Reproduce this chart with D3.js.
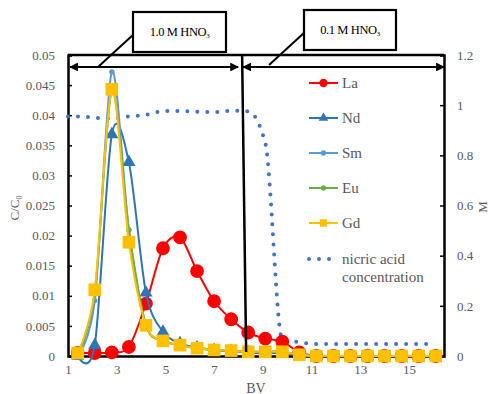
<!DOCTYPE html>
<html>
<head>
<meta charset="utf-8">
<script src="https://cdn.jsdelivr.net/npm/d3@7/dist/d3.min.js"></script>
<style>
  body { margin: 0; background: #fff; }
  text { font-family: "Liberation Serif", "Times New Roman", serif; }
</style>
</head>
<body>
<svg width="494" height="394"></svg>
<script>
// bed volumes where samples were taken
var bv = [1.4, 2.1, 2.8, 3.5, 4.2, 4.9, 5.6, 6.3, 7.0, 7.7, 8.4, 9.1, 9.8, 10.5, 11.2, 11.9, 12.6, 13.3, 14.0, 14.7, 15.4, 16.1];

// C/C0 for each element
var la = [0.0005, 0.0005, 0.0006, 0.0015, 0.0087, 0.0179, 0.0197, 0.0141, 0.0091, 0.0061, 0.0039, 0.0029, 0.0024, 0.0006, 0, 0, 0, 0, 0, 0, 0, 0];
var nd = [0, 0.0018, 0.0368, 0.0322, 0.0105, 0.0040, 0.0021, 0.0014, 0.0010, 0.0008, 0.0006, 0.0005, 0.0005, 0.0002, 0, 0, 0, 0, 0, 0, 0, 0];
var sm = [0, 0.0092, 0.0472, 0.0209, 0.0052, 0.0026, 0.0018, 0.0013, 0.0010, 0.0009, 0.0007, 0.0007, 0.0007, 0.0002, 0, 0, 0, 0, 0, 0, 0, 0];
var eu = [0, 0.0105, 0.0440, 0.0210, 0.0051, 0.0025, 0.0018, 0.0013, 0.0010, 0.0009, 0.0007, 0.0007, 0.0007, 0.0002, 0, 0, 0, 0, 0, 0, 0, 0];
var gd = [0.0005, 0.0110, 0.0443, 0.0189, 0.0051, 0.0025, 0.0018, 0.0013, 0.0010, 0.0009, 0.0007, 0.0007, 0.0007, 0.0002, 0, 0, 0, 0, 0, 0, 0, 0];

// nitric acid concentration (M), right axis
var acidBv = [1.0, 1.4, 2.1, 2.8, 3.5, 4.2, 4.9, 5.6, 6.3, 7.0, 7.7, 8.4, 9.1, 9.8, 10.5, 11.2, 11.9, 12.6, 13.3, 14.0, 14.7, 15.4, 16.1];
var acid = [0.955, 0.955, 0.950, 0.947, 0.955, 0.962, 0.976, 0.977, 0.974, 0.972, 0.978, 0.975, 0.850, 0.065, 0.055, 0.048, 0.048, 0.048, 0.048, 0.048, 0.048, 0.048, 0.048];

var xTicks = [1, 3, 5, 7, 9, 11, 13, 15];
var yTicks = [0, 0.005, 0.01, 0.015, 0.02, 0.025, 0.03, 0.035, 0.04, 0.045, 0.05];
var y2Ticks = [0, 0.2, 0.4, 0.6, 0.8, 1, 1.2];

// annotation: eluent change and the two label boxes
var eluents = ["1.0 M HNO", "0.1 M HNO"];
var changeBv = 8.15;

var svg = d3.select("svg"),
    pl = 68, pr = 444, pt = 55, pb = 356;

var x = d3.scaleLinear().domain([1, 16.44]).range([pl, pr]);
var y = d3.scaleLinear().domain([0, 0.05]).range([pb, pt]);
var y2 = d3.scaleLinear().domain([0, 1.2]).range([pb, pt]);

var grey = "#595959";

// axes
var gx = svg.append("g").attr("transform", "translate(0," + pb + ")")
    .call(d3.axisBottom(x).tickValues(xTicks).tickSize(0).tickPadding(9).tickFormat(d3.format("d")));
var gy = svg.append("g").attr("transform", "translate(" + pl + ",0)")
    .call(d3.axisLeft(y).tickValues(yTicks).tickSize(-4).tickPadding(13)
      .tickFormat(function(d) { return d === 0 ? "0" : String(+d.toFixed(3)); }));
var gy2 = svg.append("g").attr("transform", "translate(" + pr + ",0)")
    .call(d3.axisRight(y2).tickValues(y2Ticks).tickSize(-4).tickPadding(13)
      .tickFormat(function(d) { return String(+d.toFixed(1)); }));

[gx, gy, gy2].forEach(function(g) {
    g.select(".domain").attr("stroke", "#000").attr("stroke-width", 2.5);
    g.selectAll(".tick line").attr("stroke", "#000").attr("stroke-width", 1.5);
    g.selectAll(".tick text").attr("fill", grey).attr("font-size", 13)
      .style("font-family", "Liberation Serif");
});

// top border of plot
svg.append("line").attr("x1", pl).attr("x2", pr).attr("y1", pt).attr("y2", pt)
    .attr("stroke", "#000").attr("stroke-width", 2.5);

// axis titles
svg.append("text").attr("transform", "translate(19,208) rotate(-90)")
    .attr("text-anchor", "middle").attr("fill", grey).attr("font-size", 13)
    .text("C/C").append("tspan").attr("font-size", 8).attr("dy", 3).text("0");
svg.append("text").attr("transform", "translate(487,207) rotate(-90)")
    .attr("text-anchor", "middle").attr("fill", grey).attr("font-size", 13).text("M");
svg.append("text").attr("x", 256).attr("y", 393)
    .attr("text-anchor", "middle").attr("fill", grey).attr("font-size", 14).text("BV");

// nitric acid, dotted
var acidLine = d3.line()
    .x(function(d, i) { return x(acidBv[i]); })
    .y(function(d) { return y2(d); })
    .curve(d3.curveMonotoneX);
svg.append("path").datum(acid)
    .attr("d", acidLine)
    .attr("fill", "none").attr("stroke", "#4472C4").attr("stroke-width", 4)
    .attr("stroke-linecap", "round").attr("stroke-dasharray", "0 10");

var series = [
    { name: "La", values: la, color: "#FF0000", shape: d3.symbolCircle, size: 150, legSize: 55 },
    { name: "Nd", values: nd, color: "#2E75B6", shape: d3.symbolTriangle, size: 75, legSize: 40 },
    { name: "Sm", values: sm, color: "#5B9BD5", shape: d3.symbolCircle, size: 22, legSize: 22 },
    { name: "Eu", values: eu, color: "#70AD47", shape: d3.symbolCircle, size: 22, legSize: 22 },
    { name: "Gd", values: gd, color: "#FFC000", shape: d3.symbolSquare, size: 160, legSize: 55 }
];

var line = d3.line()
    .x(function(d, i) { return x(bv[i]); })
    .y(function(d) { return y(d); })
    .curve(d3.curveCardinal.tension(0.1));

series.forEach(function(s) {
    var g = svg.append("g");
    g.append("path").datum(s.values)
        .attr("d", line)
        .attr("fill", "none").attr("stroke", s.color).attr("stroke-width", 2);
    g.selectAll("path.pt").data(s.values).enter().append("path")
        .attr("class", "pt")
        .attr("transform", function(d, i) { return "translate(" + x(bv[i]) + "," + y(d) + ")"; })
        .attr("d", d3.symbol().type(s.shape).size(s.size))
        .attr("fill", s.color);
});

// legend
var legend = svg.append("g").attr("transform", "translate(309,83)");
series.forEach(function(s, i) {
    var row = legend.append("g").attr("transform", "translate(0," + (i * 35) + ")");
    row.append("line").attr("x1", 0).attr("x2", 29).attr("stroke", s.color).attr("stroke-width", 2);
    row.append("path").attr("transform", "translate(14.5,0)")
        .attr("d", d3.symbol().type(s.shape).size(s.legSize)).attr("fill", s.color);
    row.append("text").attr("x", 33).attr("y", 5).attr("fill", grey).attr("font-size", 15).text(s.name);
});
var accRow = legend.append("g").attr("transform", "translate(0,176)");
accRow.append("line").attr("x1", 0).attr("x2", 22).attr("stroke", "#4472C4").attr("stroke-width", 4)
    .attr("stroke-linecap", "round").attr("stroke-dasharray", "0 10");
accRow.append("text").attr("x", 33).attr("y", 5).attr("fill", grey).attr("font-size", 15).text("nicric acid");
accRow.append("text").attr("x", 33).attr("y", 23).attr("fill", grey).attr("font-size", 15).text("concentration");

// eluent annotation
var ann = svg.append("g");
var defs = svg.append("defs");
defs.append("marker").attr("id", "ah").attr("viewBox", "0 0 10 10")
    .attr("refX", 9).attr("refY", 5).attr("markerWidth", 4).attr("markerHeight", 4)
    .attr("orient", "auto-start-reverse").attr("markerUnits", "strokeWidth")
    .append("path").attr("d", "M0,0L10,5L0,10z").attr("fill", "#000");

var arrowY = 67;
ann.append("line").attr("x1", x(1) + 2).attr("x2", x(changeBv) - 4)
    .attr("y1", arrowY).attr("y2", arrowY)
    .attr("stroke", "#000").attr("stroke-width", 2.2)
    .attr("marker-start", "url(#ah)").attr("marker-end", "url(#ah)");
ann.append("line").attr("x1", x(changeBv) + 1).attr("x2", pr)
    .attr("y1", arrowY).attr("y2", arrowY)
    .attr("stroke", "#000").attr("stroke-width", 2.2)
    .attr("marker-start", "url(#ah)").attr("marker-end", "url(#ah)");

// divider between eluents
ann.append("line").attr("x1", x(changeBv)).attr("x2", x(changeBv) + 4)
    .attr("y1", pt).attr("y2", pb - 4)
    .attr("stroke", "#000").attr("stroke-width", 2.5);

// callout boxes
var boxes = [
    { label: eluents[0], bx: 133, by: 12, w: 93, h: 40, lx: 98, ly: 67 },
    { label: eluents[1], bx: 304, by: 10, w: 92, h: 40, lx: 269, ly: 65 }
];
boxes.forEach(function(b) {
    ann.append("line").attr("x1", b.lx).attr("y1", b.ly).attr("x2", b.bx + 1).attr("y2", b.by + 22)
        .attr("stroke", "#000").attr("stroke-width", 2);
    ann.append("rect").attr("x", b.bx).attr("y", b.by).attr("width", b.w).attr("height", b.h)
        .attr("fill", "#fff").attr("stroke", "#000").attr("stroke-width", 2.2);
    var t = ann.append("text").attr("x", b.bx + b.w / 2).attr("y", b.by + b.h / 2 + 4)
        .attr("text-anchor", "middle").attr("font-size", 12.5).attr("fill", "#000")
        .attr("letter-spacing", -0.4).text(b.label);
    t.append("tspan").attr("font-size", 7).attr("dy", 2).text("3");
});
</script>
</body>
</html>
